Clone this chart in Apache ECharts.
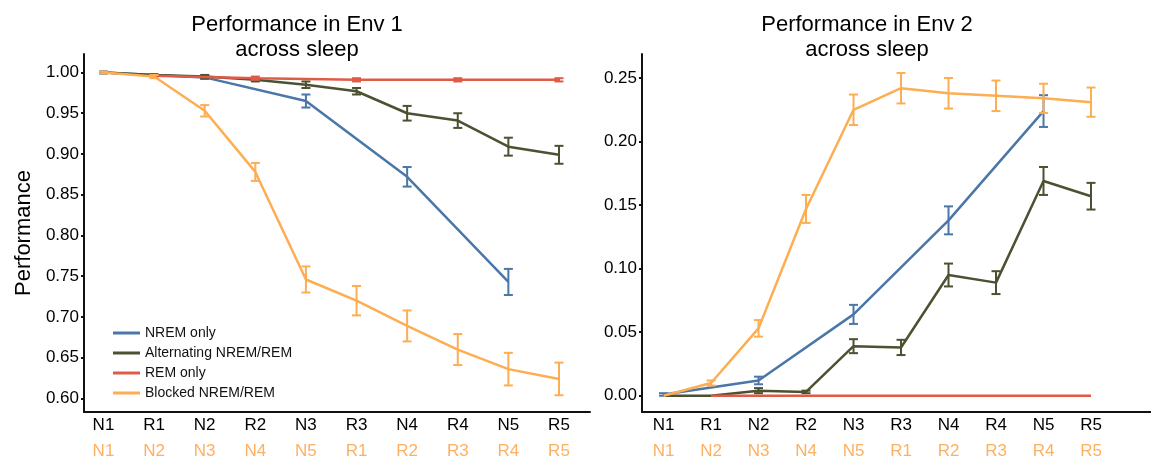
<!DOCTYPE html>
<html>
<head>
<meta charset="utf-8">
<script src="https://cdn.jsdelivr.net/npm/echarts@6/dist/echarts.min.js"></script>
<style>
  html, body { margin: 0; padding: 0; background: #fff; }
  #chart { width: 1151px; height: 465px; }
</style>
</head>
<body>
<div id="chart"></div>
<script>
// stage order, top row = NREM/REM conditions, bottom row = blocked condition
var stagesTop = ['N1', 'R1', 'N2', 'R2', 'N3', 'R3', 'N4', 'R4', 'N5', 'R5'];
var stagesBlocked = ['N1', 'N2', 'N3', 'N4', 'N5', 'R1', 'R2', 'R3', 'R4', 'R5'];
var names = ['NREM only', 'Alternating NREM/REM', 'REM only', 'Blocked NREM/REM'];
var colors = ['#4a76a8', '#4b5131', '#e05a48', '#fdad52'];

// Env 1
var nrem1 = [1.000, null, 0.994, null, 0.965, null, 0.872, null, 0.743, null];
var nrem1Err = [0.001, null, 0.002, null, 0.008, null, 0.012, null, 0.016, null];
var alt1 = [1.000, 0.997, 0.995, 0.991, 0.985, 0.977, 0.950, 0.941, 0.909, 0.899];
var alt1Err = [0.001, 0.001, 0.002, 0.002, 0.004, 0.004, 0.009, 0.009, 0.011, 0.011];
var rem1 = [null, 0.996, null, 0.993, null, 0.991, null, 0.991, null, 0.991];
var rem1Err = [null, 0.001, null, 0.002, null, 0.002, null, 0.002, null, 0.002];
var blk1 = [1.000, 0.995, 0.953, 0.878, 0.746, 0.720, 0.689, 0.660, 0.636, 0.624];
var blk1Err = [0.001, 0.002, 0.007, 0.011, 0.016, 0.018, 0.019, 0.019, 0.020, 0.020];

// Env 2
var nrem2 = [0.001, null, 0.012, null, 0.064, null, 0.138, null, 0.224, null];
var nrem2Err = [0.001, null, 0.003, null, 0.0075, null, 0.011, null, 0.0125, null];
var alt2 = [0.000, 0.000, 0.004, 0.003, 0.039, 0.038, 0.095, 0.089, 0.169, 0.157];
var alt2Err = [0, 0, 0.002, 0.001, 0.0055, 0.006, 0.009, 0.009, 0.011, 0.0105];
var rem2 = [null, 0.000, null, 0.000, null, 0.000, null, 0.000, null, 0.000];
var rem2Err = [null, 0, null, 0, null, 0, null, 0, null, 0];
var blk2 = [0.000, 0.010, 0.053, 0.147, 0.225, 0.242, 0.238, 0.236, 0.234, 0.231];
var blk2Err = [0, 0.002, 0.0065, 0.011, 0.012, 0.012, 0.012, 0.012, 0.0115, 0.0115];

var yTicks1 = [0.60, 0.65, 0.70, 0.75, 0.80, 0.85, 0.90, 0.95, 1.00];
var yTicks2 = [0.00, 0.05, 0.10, 0.15, 0.20, 0.25];

var font = 'Liberation Sans, Arial, sans-serif';

function pts(vals) {
  var out = [];
  vals.forEach(function (v, i) { if (v != null) out.push([i, v]); });
  return out;
}
function errPts(vals, errs) {
  var out = [];
  vals.forEach(function (v, i) {
    if (v != null && errs[i]) out.push([i, v - errs[i], v + errs[i]]);
  });
  return out;
}

function renderErr(params, api) {
  var x = api.value(0);
  var p1 = api.coord([x, api.value(1)]);
  var p2 = api.coord([x, api.value(2)]);
  var w = 4.5;
  var st = { stroke: api.visual('color'), lineWidth: 2 };
  return {
    type: 'group',
    children: [
      { type: 'line', shape: { x1: p1[0], y1: p1[1], x2: p2[0], y2: p2[1] }, style: st },
      { type: 'line', shape: { x1: p1[0] - w, y1: p1[1], x2: p1[0] + w, y2: p1[1] }, style: st },
      { type: 'line', shape: { x1: p2[0] - w, y1: p2[1], x2: p2[0] + w, y2: p2[1] }, style: st }
    ]
  };
}

function xAxisFor(gridIndex, min, max) {
  return {
    type: 'value', gridIndex: gridIndex, min: min, max: max,
    splitLine: { show: false },
    axisLine: { onZero: false, lineStyle: { color: '#111', width: 2 } },
    axisTick: { show: false },
    axisLabel: {
      customValues: [0, 1, 2, 3, 4, 5, 6, 7, 8, 9],
      margin: 0,
      formatter: function (v) {
        var i = Math.round(v);
        return '{a|' + stagesTop[i] + '}\n{b|' + stagesBlocked[i] + '}';
      },
      rich: {
        a: { color: '#000', fontSize: 17, fontFamily: font, lineHeight: 26 },
        b: { color: '#fdb061', fontSize: 17, fontFamily: font, lineHeight: 26 }
      }
    }
  };
}

function yAxisFor(gridIndex, min, max, ticks) {
  return {
    type: 'value', gridIndex: gridIndex, min: min, max: max,
    splitLine: { show: false },
    axisLine: { show: true, onZero: false, lineStyle: { color: '#111', width: 2 } },
    axisTick: { show: true, customValues: ticks, length: 3, lineStyle: { color: '#111', width: 2 } },
    axisLabel: {
      customValues: ticks, margin: 5, color: '#000', fontSize: 17, fontFamily: font,
      formatter: function (v) { return v.toFixed(2); }
    }
  };
}

var env1 = [nrem1, alt1, rem1, blk1];
var env1Err = [nrem1Err, alt1Err, rem1Err, blk1Err];
var env2 = [nrem2, alt2, rem2, blk2];
var env2Err = [nrem2Err, alt2Err, rem2Err, blk2Err];

var series = [];
[[env1, env1Err], [env2, env2Err]].forEach(function (env, g) {
  env[0].forEach(function (vals, k) {
    series.push({
      name: names[k], type: 'line', xAxisIndex: g, yAxisIndex: g,
      data: pts(vals), showSymbol: false, z: 2 + k,
      color: colors[k],
      lineStyle: { color: colors[k], width: 2.5 }
    });
    series.push({
      name: names[k] + ' sem', type: 'custom', xAxisIndex: g, yAxisIndex: g,
      data: errPts(vals, env[1][k]), renderItem: renderErr, z: 2 + k,
      itemStyle: { color: colors[k] },
      encode: { x: 0, y: [1, 2] }
    });
  });
});

var chart = echarts.init(document.getElementById('chart'));
chart.setOption({
  animation: false,
  backgroundColor: '#fff',
  title: [
    {
      text: 'Performance in Env 1\nacross sleep', left: 292, top: 7, textAlign: 'center',
      textStyle: { fontSize: 22, fontWeight: 'normal', color: '#000', fontFamily: font, lineHeight: 25 }
    },
    {
      text: 'Performance in Env 2\nacross sleep', left: 862, top: 7, textAlign: 'center',
      textStyle: { fontSize: 22, fontWeight: 'normal', color: '#000', fontFamily: font, lineHeight: 25 }
    }
  ],
  legend: {
    data: names, orient: 'vertical', left: 113, top: 326, padding: 0,
    icon: 'rect', itemWidth: 27, itemHeight: 3, itemGap: 6,
    textStyle: { fontSize: 14, color: '#111', fontFamily: font, lineHeight: 14 }
  },
  grid: [
    { left: 84, right: 561, top: 54, bottom: 53 },
    { left: 642, right: 0, top: 54, bottom: 53 }
  ],
  xAxis: [xAxisFor(0, -0.385, 9.613), xAxisFor(1, -0.453, 10.263)],
  yAxis: [
    Object.assign(yAxisFor(0, 0.5834, 1.0227, yTicks1), {
      name: 'Performance', nameLocation: 'middle', nameGap: 49,
      nameTextStyle: { fontSize: 22, color: '#000', fontFamily: font }
    }),
    yAxisFor(1, -0.0128, 0.2689, yTicks2)
  ],
  series: series
});
</script>
</body>
</html>
